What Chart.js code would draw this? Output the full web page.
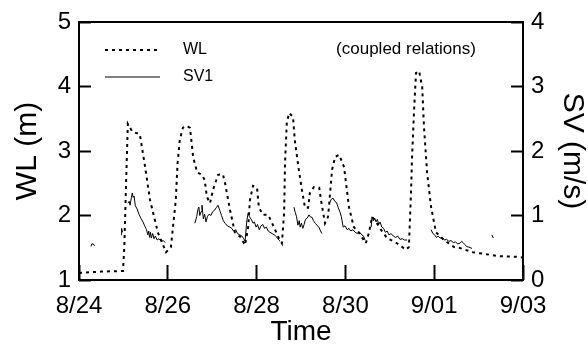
<!DOCTYPE html>
<html>
<head>
<meta charset="utf-8">
<script src="https://cdn.jsdelivr.net/npm/chart.js@4.4.1/dist/chart.umd.min.js"></script>
<style>
  body { margin: 0; background: #fff; }
  #wrap { width: 588px; height: 358px; }
</style>
</head>
<body>
<div id="wrap"><canvas id="wlChart" width="588" height="358"></canvas></div>
<script>
// days counted from 8/24 00:00
const dateLabels = ["8/24", "8/26", "8/28", "8/30", "9/01", "9/03"];

const wlDays = [0, 0.5, 0.99, 1.02, 1.06, 1.10, 1.20, 1.37, 1.49, 1.60, 1.78, 1.96, 2.07, 2.18, 2.22, 2.27, 2.34, 2.43, 2.50, 2.57,
  2.66, 2.77, 2.83, 2.88, 2.95, 3.02, 3.13, 3.24, 3.29, 3.40, 3.51, 3.63, 3.74, 3.81, 3.85, 3.92, 4.01, 4.05, 4.14, 4.26,
  4.35, 4.50, 4.57, 4.62, 4.64, 4.68, 4.73, 4.82, 4.86, 4.95, 5.02, 5.09, 5.16, 5.20, 5.29, 5.41, 5.45, 5.54, 5.61, 5.70,
  5.77, 5.86, 5.97, 6.08, 6.19, 6.31, 6.46, 6.53, 6.60, 6.69, 6.80, 6.94, 7.16, 7.36, 7.43, 7.48, 7.50, 7.55, 7.59, 7.66,
  7.73, 7.77, 7.84, 7.93, 8.04, 8.22, 8.45, 8.56, 8.87, 9.17, 9.46, 9.84, 10];
const wlLevels = [1.11, 1.13, 1.14, 1.50, 2.50, 3.42, 3.30, 3.26, 2.75, 2.24, 1.73, 1.43, 1.51, 2.24, 2.81, 3.17, 3.36, 3.39, 3.36, 2.91,
  2.67, 2.63, 2.55, 2.29, 2.19, 2.40, 2.63, 2.64, 2.50, 2.09, 1.74, 1.67, 1.54, 1.82, 2.24, 2.46, 2.43, 2.13, 2.01, 2.01,
  1.88, 1.65, 1.57, 2.04, 2.81, 3.43, 3.59, 3.53, 3.17, 2.71, 2.40, 2.12, 2.12, 2.35, 2.44, 2.43, 2.24, 1.88, 1.98, 2.71,
  2.91, 2.94, 2.75, 2.13, 1.82, 1.73, 1.57, 1.73, 1.98, 1.90, 1.78, 1.65, 1.57, 1.47, 1.51, 2.40, 2.88, 3.68, 4.21, 4.24,
  3.99, 3.37, 2.66, 2.13, 1.74, 1.62, 1.51, 1.50, 1.43, 1.40, 1.37, 1.36, 1.35];

// null = logger gap
const svDays = [0.27, 0.29, 0.32, 0.35, 0.6,
  0.95, 0.96, 0.98, 1.05,
  1.10, 1.13, 1.15, 1.18, 1.20, 1.22, 1.24, 1.27, 1.31, 1.35, 1.40, 1.44, 1.48, 1.52, 1.55, 1.57, 1.59, 1.61, 1.63, 1.66,
  1.69, 1.72, 1.76, 1.80, 1.85, 1.90, 1.94, 2.3,
  2.61, 2.65, 2.68, 2.70, 2.72, 2.75, 2.77, 2.80, 2.83, 2.86, 2.89, 2.93, 2.97, 3.01, 3.05, 3.09, 3.13, 3.17, 3.21, 3.25,
  3.29, 3.34, 3.40, 3.44, 3.48, 3.53, 3.57, 3.62, 3.67, 3.71, 3.74, 3.78, 3.81, 3.84, 3.88, 3.92, 3.95, 3.99, 4.02, 4.06,
  4.10, 4.14, 4.18, 4.22, 4.26, 4.30, 4.35, 4.40, 4.46, 4.50, 4.53, 4.7,
  4.84, 4.87, 4.90, 4.93, 4.96, 4.98, 5.01, 5.04, 5.07, 5.10, 5.14, 5.18, 5.21, 5.25, 5.28, 5.32, 5.36, 5.41, 5.44, 5.47, 5.55,
  5.65, 5.68, 5.72, 5.76, 5.80, 5.84, 5.88, 5.91, 5.95, 5.99, 6.04, 6.08, 6.12, 6.17, 6.22, 6.27, 6.32, 6.37, 6.41, 6.44, 6.5,
  6.58, 6.60, 6.63, 6.66, 6.69, 6.72, 6.75, 6.78, 6.82, 6.86, 6.90, 6.94, 6.98, 7.03, 7.08, 7.13, 7.18, 7.23, 7.28, 7.33, 7.39, 7.6,
  7.93, 7.97, 8.01, 8.05, 8.09, 8.13, 8.18, 8.23, 8.28, 8.33, 8.38, 8.43, 8.48, 8.53, 8.58, 8.62, 8.65, 8.69, 8.73, 8.78, 8.85, 9.0,
  9.30, 9.33];
const svSpeeds = [0.52, 0.56, 0.56, 0.53, null,
  0.70, 0.80, 0.74, null,
  1.19, 1.22, 1.16, 1.28, 1.35, 1.28, 1.30, 1.15, 1.10, 1.02, 0.95, 0.90, 0.84, 0.78, 0.70, 0.76, 0.66, 0.74, 0.65, 0.72,
  0.64, 0.68, 0.62, 0.64, 0.60, 0.61, 0.58, null,
  0.88, 0.98, 1.10, 1.13, 1.00, 1.06, 1.16, 0.95, 1.02, 0.90, 0.98, 1.02, 1.00, 1.06, 1.08, 1.12, 1.16, 1.08, 1.00, 0.92,
  0.88, 0.84, 0.82, 0.80, 0.76, 0.78, 0.72, 0.70, 0.68, 0.64, 0.60, 0.92, 1.04, 0.98, 0.94, 0.88, 0.90, 0.82, 0.86, 0.78,
  0.84, 0.86, 0.80, 0.82, 0.76, 0.74, 0.72, 0.70, 0.66, 0.62, 0.60, null,
  1.13, 1.05, 0.98, 0.85, 0.92, 0.82, 0.88, 0.80, 0.86, 0.94, 0.96, 1.01, 0.98, 0.97, 0.92, 0.88, 0.85, 0.81, 0.76, 0.72, null,
  1.20, 1.25, 1.27, 1.22, 1.20, 1.12, 1.05, 0.98, 0.82, 0.84, 0.78, 0.80, 0.76, 0.78, 0.74, 0.72, 0.74, 0.70, 0.68, 0.62, null,
  0.82, 0.98, 0.92, 0.96, 0.90, 0.94, 0.86, 0.90, 0.82, 0.80, 0.74, 0.76, 0.70, 0.72, 0.68, 0.66, 0.68, 0.63, 0.64, 0.62, 0.62, null,
  0.78, 0.72, 0.70, 0.66, 0.68, 0.65, 0.66, 0.62, 0.63, 0.60, 0.61, 0.58, 0.59, 0.56, 0.57, 0.60, 0.58, 0.55, 0.52, 0.51, 0.49, null,
  0.70, 0.65];

const FONT = '"Liberation Sans", Arial, sans-serif';
Chart.defaults.font.family = FONT;
Chart.defaults.color = "#000";

const wlPoints = wlDays.map((d, i) => ({ x: d, y: wlLevels[i] }));
const svPoints = svDays.map((d, i) => ({ x: d, y: svSpeeds[i] }));

// fixed axis boxes so the plot area sits where the original one does
const fixBox = (w, h) => (s) => {
  if (w) s.width = w;
  if (h) s.height = h;
  s.paddingTop = 0; s.paddingBottom = 0; s.paddingLeft = 0; s.paddingRight = 0;
};

// box round the plot, legend and the note
const framePlugin = {
  id: "frame",
  afterDraw(chart) {
    const { ctx, chartArea: a } = chart;
    ctx.save();
    ctx.strokeStyle = "#000";
    ctx.lineWidth = 2;
    ctx.strokeRect(a.left, a.top, a.right - a.left, a.bottom - a.top);

    const sets = chart.data.datasets;
    ctx.font = "16px " + FONT;
    ctx.fillStyle = "#000";
    ctx.textBaseline = "middle";
    ctx.textAlign = "left";

    ctx.lineWidth = 2;
    ctx.setLineDash([3, 4]);
    ctx.beginPath(); ctx.moveTo(105, 50); ctx.lineTo(160, 50); ctx.stroke();
    ctx.fillText(sets[0].label, 183, 50);

    ctx.lineWidth = 1;
    ctx.setLineDash([]);
    ctx.beginPath(); ctx.moveTo(105, 77); ctx.lineTo(160, 77); ctx.stroke();
    ctx.fillText(sets[1].label, 183, 77);

    ctx.font = "17px " + FONT;
    ctx.textAlign = "center";
    ctx.fillText("(coupled relations)", 406, 49);
    ctx.restore();
  }
};

const ctx = document.getElementById("wlChart");
const chart = new Chart(ctx, {
  type: "line",
  data: {
    datasets: [
      {
        label: "WL",
        data: wlPoints,
        yAxisID: "y",
        borderColor: "#000",
        borderWidth: 2,
        borderDash: [3, 4],
        pointRadius: 0,
        tension: 0,
      },
      {
        label: "SV1",
        data: svPoints,
        yAxisID: "y2",
        borderColor: "#000",
        borderWidth: 1,
        pointRadius: 0,
        tension: 0,
        spanGaps: false,
      },
    ],
  },
  options: {
    responsive: false,
    animation: false,
    layout: { padding: { top: 22, left: 0, right: 0, bottom: 0 } },
    plugins: { legend: { display: false }, tooltip: { enabled: false } },
    scales: {
      x: {
        type: "linear",
        min: 0,
        max: 10,
        afterFit: fixBox(0, 78),
        border: { display: false },
        grid: { drawOnChartArea: false, tickLength: -15, tickWidth: 2, tickColor: "#000" },
        ticks: {
          stepSize: 2, autoSkip: false, maxRotation: 0, padding: 29,
          font: { size: 24, lineHeight: 1 },
          callback: (v) => dateLabels[v / 2],
        },
        title: { display: true, text: "Time", font: { size: 28, lineHeight: 1 }, padding: { top: 0, bottom: 12 } },
      },
      y: {
        position: "left",
        min: 1,
        max: 5,
        afterFit: fixBox(79, 0),
        border: { display: false },
        grid: { drawOnChartArea: false, tickLength: -12, tickWidth: 2, tickColor: "#000" },
        ticks: { stepSize: 1, padding: 20, font: { size: 24, lineHeight: 1 } },
        title: { display: true, text: "WL (m)", font: { size: 30, lineHeight: 1 }, padding: { top: 13, bottom: 13 } },
      },
      y2: {
        position: "right",
        min: 0,
        max: 4,
        afterFit: fixBox(65, 0),
        border: { display: false },
        grid: { drawOnChartArea: false, tickLength: -12, tickWidth: 2, tickColor: "#000" },
        ticks: { stepSize: 1, padding: 20, font: { size: 24, lineHeight: 1 } },
        title: { display: true, text: "SV (m/s)", font: { size: 30, lineHeight: 1 }, padding: { top: 1, bottom: 1 } },
      },
    },
  },
  plugins: [framePlugin],
});
</script>
</body>
</html>
